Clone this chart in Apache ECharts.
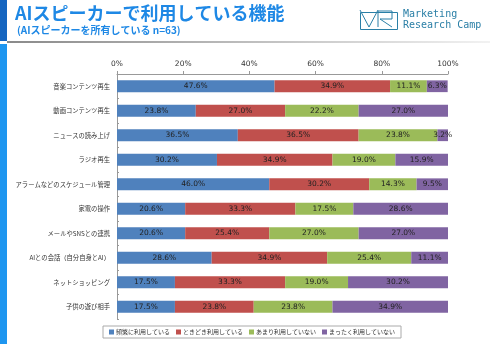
<!DOCTYPE html>
<html>
<head>
<meta charset="utf-8">
<script src="https://cdn.jsdelivr.net/npm/echarts@6/dist/echarts.min.js"></script>
<style>
html,body{margin:0;padding:0;background:#fff;}
#main{width:490px;height:344px;}
</style>
</head>
<body>
<div id="main"></div>
<script>
var categories = ['音楽コンテンツ再生', '動画コンテンツ再生', 'ニュースの読み上げ', 'ラジオ再生', 'アラームなどのスケジュール管理', '家電の操作', 'メールやSNSとの連携', 'AIとの会話（自分自身とAI）', 'ネットショッピング', '子供の遊び相手'];
var seriesNames = ['頻繁に利用している', 'ときどき利用している', 'あまり利用していない', 'まったく利用していない'];
var often = [47.6, 23.8, 36.5, 30.2, 46.0, 20.6, 20.6, 28.6, 17.5, 17.5];
var sometimes = [34.9, 27.0, 36.5, 34.9, 30.2, 33.3, 25.4, 34.9, 33.3, 23.8];
var rarely = [11.1, 22.2, 23.8, 19.0, 14.3, 17.5, 27.0, 25.4, 19.0, 23.8];
var never = [6.3, 27.0, 3.2, 15.9, 9.5, 28.6, 27.0, 11.1, 30.2, 34.9];
var colors = ['#4F81BD', '#C0504D', '#9BBB59', '#8064A2'];

var chartDom = document.getElementById('main');
var myChart = echarts.init(chartDom, null, {renderer: 'canvas'});
var font = '"DejaVu Sans", Verdana, "Noto Sans CJK JP", sans-serif';
var jp = '"Noto Sans CJK JP", sans-serif';

var allData = [often, sometimes, rarely, never];
var series = [];
for (var i = 0; i < 4; i++) {
    series.push({
        name: seriesNames[i],
        type: 'bar',
        stack: 'total',
        barWidth: '48%',
        itemStyle: {color: colors[i]},
        label: {
            show: true,
            position: 'inside',
            color: '#222',
            fontSize: 7.5,
            fontFamily: font,
            formatter: function(p) { return p.value.toFixed(1) + '%'; }
        },
        data: allData[i]
    });
}

var option = {
    animation: false,
    textStyle: {fontFamily: font},
    grid: {left: 117, right: 42, top: 74, bottom: 25, containLabel: false},
    xAxis: {
        type: 'value',
        position: 'top',
        min: 0,
        max: 100,
        interval: 20,
        axisLine: {show: true, lineStyle: {color: '#999', width: 1}},
        axisTick: {show: true, length: 3, lineStyle: {color: '#999'}},
        splitLine: {show: false},
        axisLabel: {color: '#333', fontSize: 7.5, margin: 6, formatter: '{value}%'}
    },
    yAxis: {
        type: 'category',
        inverse: true,
        data: categories,
        axisLine: {show: true, lineStyle: {color: '#999', width: 1}},
        axisTick: {show: true, length: 2, inside: true, lineStyle: {color: '#999'}},
        axisLabel: {color: '#333', fontSize: 6.3, margin: 7, fontFamily: jp}
    },
    legend: {
        data: seriesNames,
        left: 103,
        top: 326,
        width: 400,
        itemWidth: 5,
        itemHeight: 5,
        itemGap: 6,
        padding: [3, 6, 3, 6],
        borderColor: '#aaa',
        borderWidth: 1,
        icon: 'rect',
        textStyle: {color: '#333', fontSize: 6, fontFamily: jp, padding: [0, 0, 0, -3]}
    },
    graphic: [
        {type: 'rect', left: 0, top: 0, shape: {width: 7, height: 41}, style: {fill: '#1565C0'}},
        {type: 'rect', left: 0, top: 44, shape: {width: 7, height: 300}, style: {fill: '#1E96F0'}},
        {type: 'rect', left: 7, top: 41, shape: {width: 483, height: 2},
            style: {fill: new echarts.graphic.LinearGradient(0, 0, 1, 0, [
                {offset: 0, color: '#8a8a8a'}, {offset: 0.6, color: '#c8c8c8'}, {offset: 1, color: '#f2f2f2'}])}},
        {type: 'text', left: 15, top: 4, style: {text: 'AIスピーカーで利用している機能', fill: '#1E88E5',
            font: 'bold 18px ' + jp}},
        {type: 'text', left: 17, top: 25, style: {text: '(AIスピーカーを所有している n=63)', fill: '#1E88E5',
            font: 'bold 10px ' + jp}},
        {type: 'rect', left: 358, top: 10, shape: {width: 37, height: 17},
            style: {fill: 'none', stroke: '#2A7FA6', lineWidth: 1}},
        {type: 'polyline', shape: {points: [[360, 10], [369, 27], [378, 10]]},
            style: {fill: 'none', stroke: '#2A7FA6', lineWidth: 1}},
        {type: 'polyline', shape: {points: [[378, 27], [378, 11], [392, 11], [392, 19], [380, 19], [392, 27]]},
            style: {fill: 'none', stroke: '#2A7FA6', lineWidth: 1}},
        {type: 'text', left: 403, top: 9, style: {text: 'Marketing', fill: '#2A7FA6',
            font: '10px "DejaVu Sans Mono", monospace'}},
        {type: 'text', left: 403, top: 20, style: {text: 'Research Camp', fill: '#2A7FA6',
            font: '10px "DejaVu Sans Mono", monospace'}}
    ],
    series: series
};

option && myChart.setOption(option);
</script>
</body>
</html>
